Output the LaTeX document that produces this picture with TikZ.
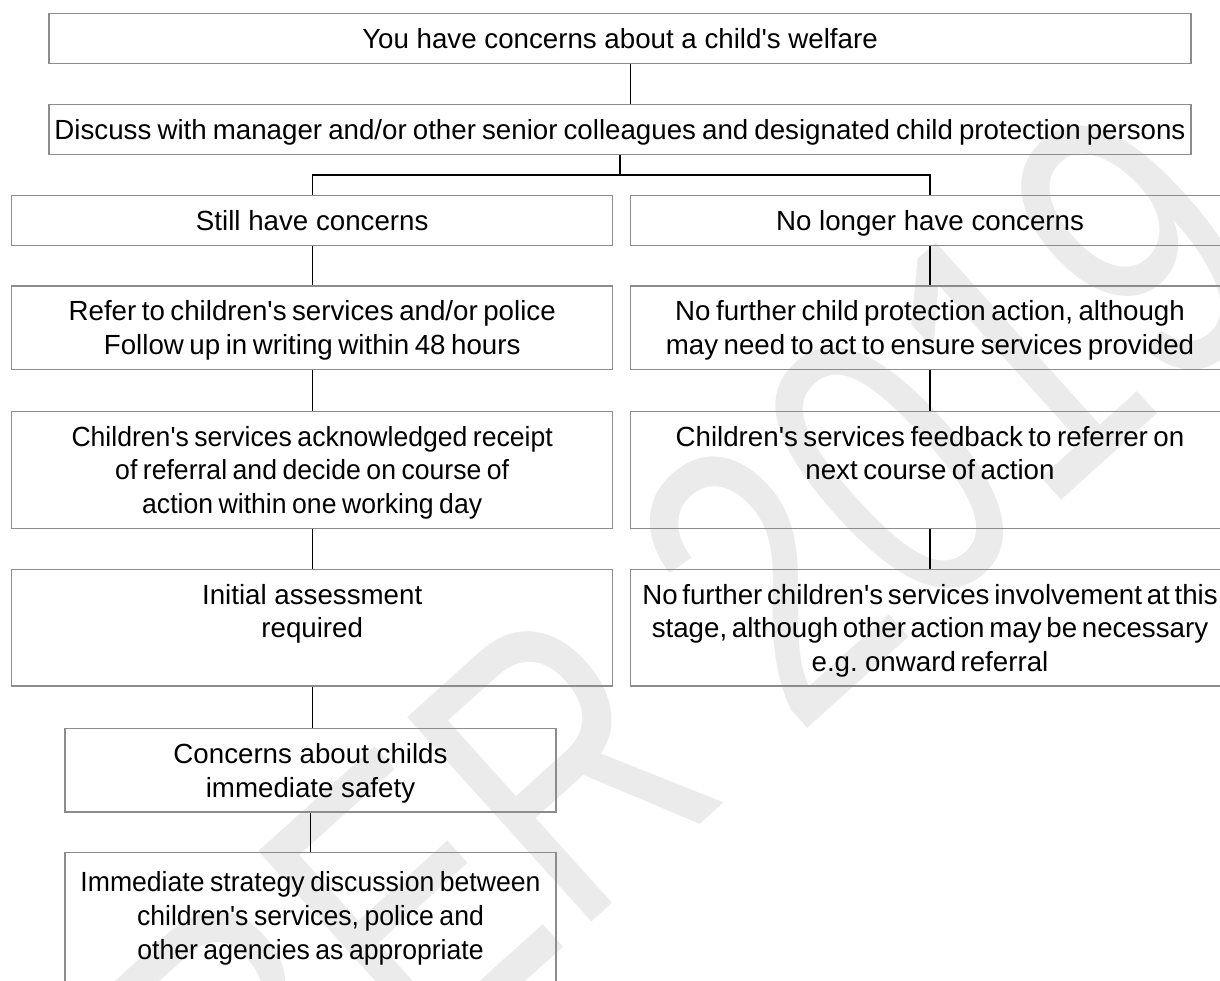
\documentclass[tikz,border=0pt]{standalone}
\usepackage{fontspec}
\setmainfont{Liberation Sans}[Ligatures=TeXOff]
\newfontfamily\narrowf{Liberation Sans}[Ligatures=TeXOff, FakeStretch=0.96]
\definecolor{wm}{RGB}{235,235,235}
\definecolor{bord}{RGB}{140,140,140}
\newcommand\mysps[1]{\spaceskip=#1em\relax}
\newcommand\tstrut{\rule{0pt}{30.4pt}}
\tikzset{
  box/.style={draw=bord, line width=1.3pt, align=center, inner sep=0pt,
    font=\fontsize{27.7}{33.8}\selectfont},
  tight/.style={font=\fontsize{27.7}{33.8}\selectfont\mysps{#1}},
  narrowtight/.style={font=\narrowf\fontsize{27.7}{33.8}\selectfont\mysps{#1}},
  conn/.style={draw=black, line width=1.3pt}
}
\begin{document}
\begin{tikzpicture}[x=1pt,y=-1pt]
\useasboundingbox (0,0) rectangle (1220,981);
% watermark
\node[rotate=42, text=wm, font=\fontsize{400}{400}\selectfont, inner sep=0pt] (wmk) at (372,935) {\scalebox{0.75}[1]{OCTOBER 2019}};
% boxes
\node[box, minimum width=1142pt, minimum height=50pt] (b1) at (620,38.3) {\tstrut You have concerns about a child's welfare\strut};
\node[box, tight=0.22, minimum width=1142pt, minimum height=50pt] (b2) at (620,129.3) {\tstrut Discuss with manager and/or other senior colleagues and designated child protection persons\strut};
\node[box, minimum width=601pt, minimum height=50.4pt] (b3l) at (312.2,220.5) {\tstrut Still have concerns\strut};
\node[box, minimum width=598.6pt, minimum height=50.4pt] (b3r) at (930,220.5) {\tstrut No longer have concerns\strut};
\node[box, tight=0.2, minimum width=601pt, minimum height=83.3pt] (b4l) at (312.2,327.7) {\tstrut Refer to children's services and/or police\\Follow up in writing within 48 hours\strut};
\node[box, tight=0.2, minimum width=598.6pt, minimum height=83.3pt] (b4r) at (930,327.7) {\tstrut No further child protection action, although\\may need to act to ensure services provided\strut};
\node[box, narrowtight=0.2, minimum width=601pt, minimum height=117pt] (b5l) at (312.2,469.8) {\tstrut Children's services acknowledged receipt\\of referral and decide on course of\\action within one working day\strut};
\node[box, tight=0.2, minimum width=598.6pt, minimum height=117pt] (b5r) at (930,469.8) {\tstrut Children's services feedback to referrer on\\next course of action\\\strut};
\node[box, minimum width=601pt, minimum height=116.7pt] (b6l) at (312.2,627.7) {\tstrut Initial assessment\\required\\\strut};
\node[box, tight=0.17, minimum width=598.6pt, minimum height=116.7pt] (b6r) at (930,627.7) {\tstrut No further children's services involvement at this\\stage, although other action may be necessary\\e.g. onward referral\strut};
\node[box, minimum width=491pt, minimum height=83.3pt] (b7) at (310.5,770.4) {\tstrut Concerns about childs\\immediate safety\strut};
\node[box, narrowtight=0.2, minimum width=491pt, minimum height=159.6pt] (b8) at (310.5,932.4) {\tstrut Immediate strategy discussion between\\children's services, police and\\other agencies as appropriate\\\strut};
% connectors
\draw[conn] ([xshift=10.7pt]b1.south) -- ([xshift=10.7pt]b2.north);
\coordinate (br) at (620,175);
\draw[conn] (b2.south) -- (br);
\draw[conn] (b3l.north) |- (br) -| (b3r.north);
\draw[conn] (b3l.south) -- (b4l.north);
\draw[conn] (b4l.south) -- (b5l.north);
\draw[conn] (b5l.south) -- (b6l.north);
\draw[conn] (b6l.south) -- (b6l.south |- b7.north);
\draw[conn] (b7.south) -- (b8.north);
\draw[conn] (b3r.south) -- (b4r.north);
\draw[conn] (b4r.south) -- (b5r.north);
\draw[conn] (b5r.south) -- (b6r.north);
\end{tikzpicture}
\end{document}
